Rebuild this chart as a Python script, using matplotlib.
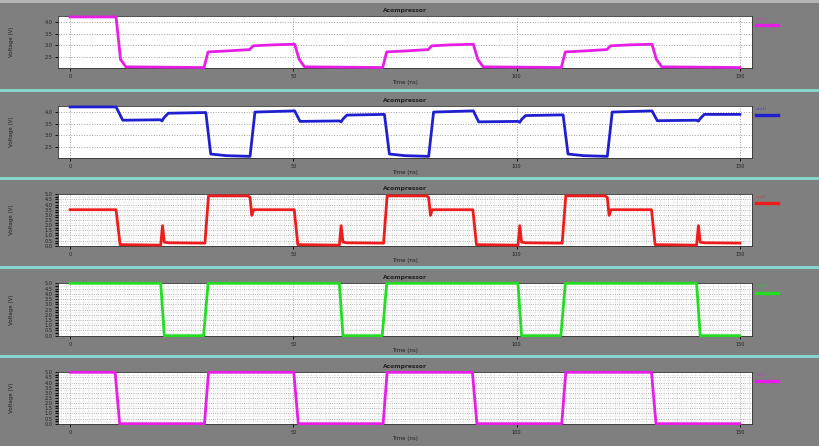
import matplotlib.pyplot as plt
from matplotlib.lines import Line2D
from matplotlib.ticker import MultipleLocator

# ==========================
#   WAVEFORM DATA (t in ns, V)
# ==========================
wave1 = [(0, 4.22), (10.3, 4.22), (11.3, 2.4), (12.5, 2.08), (30.0, 2.05),
         (30.9, 2.72), (35, 2.76), (40.2, 2.82), (41.0, 2.98), (45, 3.02),
         (50.3, 3.05), (51.3, 2.4), (52.5, 2.08), (70.0, 2.05),
         (70.9, 2.72), (75, 2.76), (80.2, 2.82), (81.0, 2.98), (85, 3.02),
         (90.3, 3.05), (91.3, 2.4), (92.5, 2.08), (110.0, 2.05),
         (110.9, 2.72), (115, 2.76), (120.2, 2.82), (121.0, 2.98), (125, 3.02),
         (130.3, 3.05), (131.3, 2.4), (132.5, 2.08), (150, 2.05)]

wave2 = [(0, 4.22), (10.3, 4.22), (11.8, 3.65), (20.2, 3.67), (20.6, 3.62),
         (21.0, 3.75), (22.0, 3.95), (30.4, 3.98), (31.5, 2.2), (35, 2.13),
         (40.3, 2.1), (41.4, 4.0), (50.3, 4.05), (51.5, 3.6), (60.3, 3.62),
         (60.7, 3.58), (61.1, 3.7), (62.0, 3.87), (70.4, 3.9), (71.5, 2.2),
         (75, 2.13), (80.3, 2.1), (81.4, 4.0), (90.3, 4.05), (91.5, 3.58),
         (100.3, 3.6), (100.7, 3.56), (101.1, 3.68), (102.0, 3.85), (110.4, 3.88),
         (111.5, 2.2), (115, 2.13), (120.3, 2.1), (121.4, 4.0), (130.3, 4.05),
         (131.5, 3.63), (140.3, 3.65), (140.7, 3.61), (141.1, 3.72), (142.0, 3.9),
         (150, 3.9)]

wave3 = [(0, 3.5), (10.3, 3.5), (11.2, 0.1), (20.3, 0.05), (20.7, 1.95),
         (21.1, 0.35), (22, 0.28), (30.2, 0.25), (31.0, 4.85), (39.8, 4.85),
         (40.3, 4.7), (40.7, 2.95), (41.1, 3.5), (50.2, 3.5), (51.0, 0.1),
         (60.3, 0.05), (60.7, 1.95), (61.1, 0.35), (62, 0.28), (70.2, 0.25),
         (71, 4.85), (79.8, 4.85), (80.3, 4.7), (80.7, 2.95), (81.1, 3.5),
         (90.2, 3.5), (91, 0.1), (100.3, 0.05), (100.7, 1.95), (101.1, 0.35),
         (102, 0.28), (110.2, 0.25), (111, 4.85), (119.8, 4.85), (120.3, 4.7),
         (120.7, 2.95), (121.1, 3.5), (130.2, 3.5), (131, 0.1), (140.3, 0.05),
         (140.7, 1.95), (141.1, 0.35), (142, 0.28), (150, 0.25)]

wave4 = [(0, 5), (20.3, 5), (21.1, 0), (29.9, 0), (30.9, 5), (60.3, 5),
         (61.1, 0), (69.9, 0), (70.9, 5), (100.3, 5), (101.1, 0), (109.9, 0),
         (110.9, 5), (140.3, 5), (141.1, 0), (150, 0)]

wave5 = [(0, 5), (10.1, 5), (11.1, 0), (30.1, 0), (31.0, 5), (50.1, 5),
         (51.1, 0), (70.1, 0), (71, 5), (90.1, 5), (91.1, 0), (110.1, 0),
         (111, 5), (130.2, 5), (131.2, 0), (150, 0)]

waves = [wave1, wave2, wave3, wave4, wave5]
colors = ['#e61ee6', '#1f1fcf', '#ee1c1c', '#22dd22', '#e61ee6']
legend_names = ['v(out)', 'v(x1)', 'v(x2)', 'v(clk)', 'v(in)']
title = "Acompressor"

# ==========================
#   LAYOUT (pixels)
# ==========================
W, H = 820, 446
BG = '#7f7f7f'
ax_left, ax_right = 58, 752
panels = [(16, 68), (106, 158), (194, 246), (283, 336), (372, 424)]
separators = [90, 178, 267, 356]

fig = plt.figure(figsize=(W / 100, H / 100), dpi=100, facecolor=BG)

# light strip at the very top
fig.add_artist(plt.Rectangle((0, 1 - 3 / H), 1, 3 / H, transform=fig.transFigure,
                             color='#b4b4b4', lw=0))
for y in separators:
    fig.add_artist(Line2D([0, 1], [1 - y / H] * 2, transform=fig.transFigure,
                          color='#86dcd4', lw=2.0))

for i, (top, bottom) in enumerate(panels):
    ax = fig.add_axes([ax_left / W, 1 - bottom / H,
                       (ax_right - ax_left) / W, (bottom - top) / H])
    ax.set_facecolor('white')
    t = [p[0] for p in waves[i]]
    v = [p[1] for p in waves[i]]
    ax.plot(t, v, color=colors[i], lw=2.0, solid_joinstyle='round', clip_on=False, zorder=3)

    ax.set_xlim(-2.7, 152.7)
    ax.set_xticks([0, 50, 100, 150])
    if i < 2:
        ax.set_ylim(2.03, 4.26)
        ax.set_yticks([2.5, 3.0, 3.5, 4.0])
        ax.grid(True, which='major', color='#a0a0a0', linestyle=':', lw=0.7)
    else:
        ax.set_ylim(-0.03, 5.03)
        ax.yaxis.set_major_locator(MultipleLocator(0.5))
        ax.yaxis.set_minor_locator(MultipleLocator(0.25))
        ax.xaxis.set_minor_locator(MultipleLocator(1))
        ax.grid(True, which='major', color='#9a9a9a', linestyle=':', lw=0.6)
        ax.grid(True, which='minor', color='#c4c4c4', linestyle=':', lw=0.4)
        ax.tick_params(axis='y', which='minor', length=2.5, width=1.0, color='black')
        ax.tick_params(axis='x', which='minor', length=0)
    ax.yaxis.set_major_formatter(plt.FormatStrFormatter('%.1f'))
    ax.tick_params(axis='both', which='major', labelsize=3.6, length=2.5, width=0.6,
                   pad=1.5, colors='black', labelcolor='#222222')
    for s in ax.spines.values():
        s.set_color('#333333')
        s.set_linewidth(0.6)

    ax.set_title(title, fontsize=4.3, fontweight='bold', color='#222222', pad=3)
    ax.set_xlabel("Time (ns)", fontsize=4, color='#222222', labelpad=1)
    fig.text(12 / W, 1 - (top + bottom) / 2 / H, "Voltage (V)", rotation=90,
             fontsize=4, color='#222222', ha='center', va='center')

    # legend entry at the right, outside the plot
    ax.add_line(Line2D([1.006, 1.037], [0.82, 0.82], transform=ax.transAxes,
                       color=colors[i], lw=2.4, clip_on=False))
    ax.text(1.006, 0.95, legend_names[i], transform=ax.transAxes, fontsize=3.2,
            color=colors[i], alpha=0.6, ha='left', va='center')

fig.savefig('out.png', dpi=100, facecolor=BG)
